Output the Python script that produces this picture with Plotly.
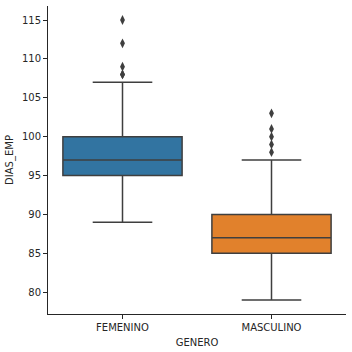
import plotly.graph_objects as go

categories = ["FEMENINO", "MASCULINO"]
q1 = [95, 85]
median = [97, 87]
q3 = [100, 90]
lower = [89, 79]
upper = [107, 97]
outliers = [[108, 108, 109, 112, 115], [98, 99, 100, 101, 103]]
colors = ["#3274a1", "#e1812c"]
edge = "#3f3f3f"

fig = go.Figure()
for i, cat in enumerate(categories):
    fig.add_trace(go.Box(
        x=[cat], q1=[q1[i]], median=[median[i]], q3=[q3[i]],
        lowerfence=[lower[i]], upperfence=[upper[i]],
        fillcolor=colors[i], line=dict(color=edge, width=1.5),
        width=0.8, whiskerwidth=0.5, boxpoints=False, showlegend=False,
        hoverinfo="skip",
    ))
    fig.add_trace(go.Scatter(
        x=[cat] * len(outliers[i]), y=outliers[i], mode="markers",
        marker=dict(symbol="diamond-tall", size=7, color=edge),
        showlegend=False, hoverinfo="skip",
    ))

font = dict(family="DejaVu Sans", size=10, color="#262626")
fig.update_layout(
    width=352, height=352,
    margin=dict(l=48, r=6, t=6, b=38),
    plot_bgcolor="white", paper_bgcolor="white",
    font=font,
    xaxis=dict(
        type="category", categoryorder="array", categoryarray=categories,
        range=[-0.5, 1.5], showgrid=False, zeroline=False,
        showline=True, linecolor="#262626", linewidth=1,
        ticks="outside", ticklen=4, tickcolor="#262626",
        title=dict(text="GENERO", font=font, standoff=6),
    ),
    yaxis=dict(
        range=[77.2, 116.8], tickvals=[80, 85, 90, 95, 100, 105, 110, 115],
        showgrid=False, zeroline=False,
        showline=True, linecolor="#262626", linewidth=1,
        ticks="outside", ticklen=4, tickcolor="#262626",
        title=dict(text="DIAS_EMP", font=font, standoff=6),
    ),
)
fig.write_html("out.html")
